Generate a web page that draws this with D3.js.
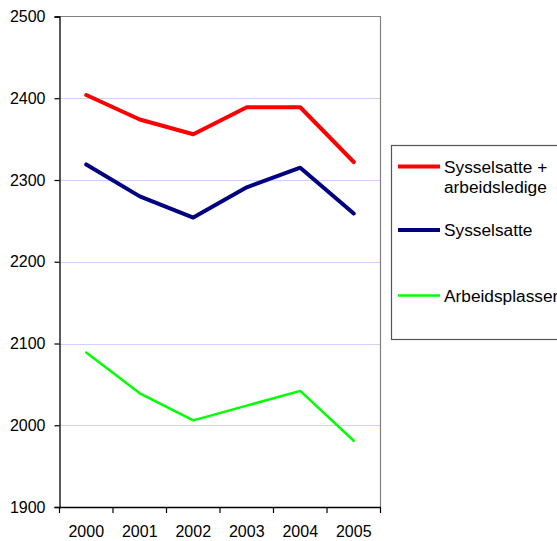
<!DOCTYPE html>
<html>
<head>
<meta charset="utf-8">
<script src="https://cdn.jsdelivr.net/npm/d3@7"></script>
<style>
  body { margin: 0; background: #fff; }
  svg { display: block; font-family: "Liberation Sans", Arial, sans-serif; }
</style>
</head>
<body>
<div id="grafico"></div>
<script>
// data
const aar = ['2000', '2001', '2002', '2003', '2004', '2005'];
const sysselsattePlusLedige = [2404, 2374, 2356, 2389, 2389, 2322];
const sysselsatte = [2319, 2280, 2254, 2291, 2315, 2259];
const arbeidsplasser = [2089, 2039, 2006, 2024, 2042, 1981];
const yTicks = [1900, 2000, 2100, 2200, 2300, 2400, 2500];

const serier = [
  { navn: ['Sysselsatte +', 'arbeidsledige'], verdier: sysselsattePlusLedige, farge: '#ff0000', bredde: 4 },
  { navn: ['Sysselsatte'], verdier: sysselsatte, farge: '#000080', bredde: 4 },
  { navn: ['Arbeidsplasser'], verdier: arbeidsplasser, farge: '#00ff00', bredde: 2.5 }
];

const W = 557, H = 541;
const plot = { x0: 59.5, x1: 380.5, y0: 16.5, y1: 507 };

const svg = d3.select('#grafico').append('svg')
  .attr('width', W).attr('height', H);

const x = d3.scaleBand().domain(aar).range([plot.x0, plot.x1]).padding(0);
const y = d3.scaleLinear().domain([1900, 2500]).range([plot.y1, plot.y0]);

// gridlines
svg.append('g').selectAll('line')
  .data(yTicks.filter(t => t > 1900 && t < 2500))
  .join('line')
  .attr('x1', plot.x0).attr('x2', plot.x1)
  .attr('y1', d => Math.round(y(d)) + 0.5).attr('y2', d => Math.round(y(d)) + 0.5)
  .attr('stroke', '#d0d0ff').attr('stroke-width', 1);

// top and right frame
svg.append('path')
  .attr('d', `M${plot.x0},${plot.y0}H${plot.x1}V${plot.y1}`)
  .attr('fill', 'none').attr('stroke', '#808080').attr('stroke-width', 1.2);

// y axis
const yAxis = svg.append('g')
  .attr('transform', `translate(${plot.x0},0)`)
  .call(d3.axisLeft(y).tickValues(yTicks).tickSize(5).tickPadding(9).tickFormat(d3.format('d')));
yAxis.select('.domain').attr('stroke', '#000').attr('stroke-width', 1.3);
yAxis.selectAll('.tick line').attr('stroke', '#000').attr('stroke-width', 1.2);
yAxis.selectAll('text').attr('font-size', 16).attr('fill', '#000')
  .attr('font-family', '"Liberation Sans", Arial, sans-serif');

// x axis with ticks at category boundaries
const xAxis = svg.append('g')
  .attr('transform', `translate(0,${plot.y1})`)
  .call(d3.axisBottom(x).tickSize(0).tickPadding(19));
xAxis.select('.domain').attr('stroke', '#000').attr('stroke-width', 1.3);
xAxis.selectAll('text').attr('font-size', 16).attr('fill', '#000')
  .attr('font-family', '"Liberation Sans", Arial, sans-serif');
xAxis.selectAll('.grense')
  .data(aar.map(a => x(a)).concat([x(aar[aar.length - 1]) + x.bandwidth()]))
  .join('line')
  .attr('x1', d => d).attr('x2', d => d)
  .attr('y1', 0).attr('y2', 6)
  .attr('stroke', '#000').attr('stroke-width', 1.2);

// lines
const linje = d3.line()
  .x((d, i) => x(aar[i]) + x.bandwidth() / 2)
  .y(d => y(d));

serier.forEach(s => {
  svg.append('path')
    .datum(s.verdier)
    .attr('fill', 'none')
    .attr('stroke', s.farge)
    .attr('stroke-width', s.bredde)
    .attr('stroke-linejoin', 'round')
    .attr('stroke-linecap', 'round')
    .attr('d', linje);
});

// legend
const leg = svg.append('g');
leg.append('rect')
  .attr('x', 391.5).attr('y', 145.5)
  .attr('width', 180).attr('height', 194)
  .attr('fill', '#fff').attr('stroke', '#555').attr('stroke-width', 1.2);

const legY = [166.5, 230, 295.5];
serier.forEach((s, i) => {
  leg.append('line')
    .attr('x1', 398).attr('x2', 440)
    .attr('y1', legY[i]).attr('y2', legY[i])
    .attr('stroke', s.farge).attr('stroke-width', s.bredde);
  const t = leg.append('text')
    .attr('x', 444).attr('y', legY[i])
    .attr('font-size', 17.3).attr('fill', '#000')
    .attr('dominant-baseline', 'central');
  s.navn.forEach((n, j) => {
    t.append('tspan').attr('x', 444).attr('dy', j === 0 ? 0 : 20.7).text(n);
  });
});
</script>
</body>
</html>
